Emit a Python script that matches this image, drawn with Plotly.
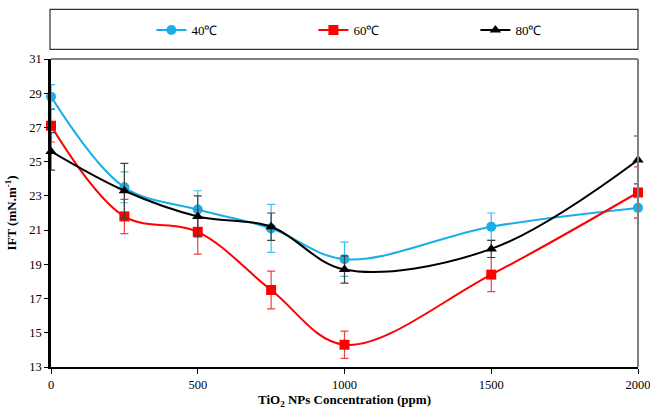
import plotly.graph_objects as go

# TiO2 nanoparticle concentration (ppm)
concentration = [0, 250, 500, 750, 1000, 1500, 2000]

# Interfacial tension (mN/m) at each temperature
ift_40 = [28.8, 23.5, 22.2, 21.1, 19.3, 21.2, 22.3]
ift_60 = [27.1, 21.8, 20.9, 17.5, 14.3, 18.4, 23.2]
ift_80 = [25.6, 23.3, 21.8, 21.2, 18.7, 19.9, 25.1]

# Standard deviations for the error bars
err_40 = [0.7, 0.9, 1.1, 1.4, 1.0, 0.8, 0.6]
err_60 = [0.95, 1.0, 1.3, 1.1, 0.8, 1.0, 1.5]
err_80 = [1.1, 1.6, 1.2, 0.8, 0.8, 0.5, 1.4]

series_names = ["40℃", "60℃", "80℃"]
x_ticks = [0, 500, 1000, 1500, 2000]
y_ticks = [13, 15, 17, 19, 21, 23, 25, 27, 29, 31]

FONT = "Liberation Serif, Times New Roman, serif"

styles = [
    dict(color="#1AAEE8", err="#3BBDEE", symbol="circle", size=10),
    dict(color="#FF0000", err="#F04040", symbol="square", size=10),
    dict(color="#000000", err="#404040", symbol="triangle-up", size=10),
]

fig = go.Figure()
for name, ys, es, st in zip(series_names, [ift_40, ift_60, ift_80],
                            [err_40, err_60, err_80], styles):
    fig.add_trace(go.Scatter(
        x=concentration, y=ys, name=name,
        mode="lines+markers",
        line=dict(color=st["color"], width=2, shape="spline", smoothing=1.0),
        marker=dict(color=st["color"], symbol=st["symbol"], size=st["size"]),
        error_y=dict(type="data", array=es, visible=True,
                     color=st["err"], thickness=1.2, width=4),
        cliponaxis=False,
    ))

fig.update_layout(
    width=650, height=410,
    margin=dict(l=51, r=12, t=59, b=43, autoexpand=False),
    paper_bgcolor="white", plot_bgcolor="white",
    font=dict(family=FONT, size=13, color="black"),
    showlegend=True,
    legend=dict(
        orientation="h", x=0.585, y=1.094, xanchor="center", yanchor="middle",
        entrywidth=117, entrywidthmode="pixels",
        bgcolor="rgba(0,0,0,0)", borderwidth=0,
        font=dict(family=FONT, size=13),
        traceorder="normal",
    ),
    xaxis=dict(
        range=[0, 2000], tickvals=x_ticks, ticks="outside", ticklen=5,
        tickcolor="black", showline=True, linecolor="black", linewidth=1.5,
        showgrid=False, zeroline=False, ticklabeloverflow="allow",
        tickfont=dict(family=FONT, size=12.5),
        title=dict(text="<b>TiO<sub>2</sub> NPs Concentration (ppm)</b>",
                   font=dict(family=FONT, size=13), standoff=4),
    ),
    yaxis=dict(
        range=[13, 31], tickvals=y_ticks, ticks="outside", ticklen=4,
        tickcolor="black", showline=True, linecolor="black", linewidth=2.5,
        showgrid=False, zeroline=False,
        tickfont=dict(family=FONT, size=12.5),
        title=dict(text="<b>IFT (mN.m<sup>-1</sup>)</b>",
                   font=dict(family=FONT, size=13), standoff=10),
    ),
    shapes=[
        # legend frame
        dict(type="rect", xref="paper", yref="paper",
             x0=-0.0017, x1=1.0, y0=1.031, y1=1.161,
             line=dict(color="#333333", width=1.2)),
        # top border of plot area
        dict(type="line", xref="paper", yref="paper", x0=0, x1=1, y0=1, y1=1,
             line=dict(color="black", width=1.2)),
        # right border of plot area
        dict(type="line", xref="paper", yref="paper", x0=1, x1=1, y0=0, y1=1,
             line=dict(color="#808080", width=2)),
    ],
)

fig.write_html("out.html")
